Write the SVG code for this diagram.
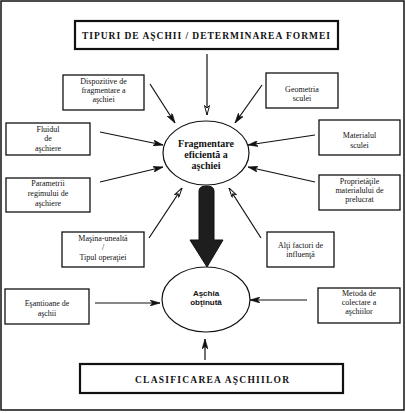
<svg xmlns="http://www.w3.org/2000/svg" width="406" height="413" viewBox="0 0 406 413">
<defs>
<marker id="ah" viewBox="0 0 10 6" refX="10" refY="3" markerWidth="10" markerHeight="6" markerUnits="userSpaceOnUse" orient="auto">
<path d="M0,0 L10,3 L0,6 L2.5,3 z" fill="#111" stroke="#111" stroke-width="0.6"/>
</marker>
<marker id="ao" viewBox="0 0 10 6" refX="10" refY="3" markerWidth="10" markerHeight="6" markerUnits="userSpaceOnUse" orient="auto">
<path d="M0.5,0.5 L10,3 L0.5,5.5 L3,3 z" fill="#fff" stroke="#111" stroke-width="1"/>
</marker>
</defs>
<style>
.box{fill:#fff;stroke:#111;stroke-width:1.3}
.big{fill:#fff;stroke:#111;stroke-width:2.2}
.ell{fill:#fff;stroke:#111;stroke-width:1.2}
.t{font-family:"Liberation Serif","Times New Roman",serif;font-size:8px;fill:#111;text-anchor:middle}
.tb{font-family:"Liberation Serif","Times New Roman",serif;font-size:10px;font-weight:bold;fill:#111;text-anchor:middle}
.ts{font-family:"Liberation Sans",Arial,sans-serif;font-size:8px;font-weight:bold;fill:#111;text-anchor:middle}
.cap{font-family:"Liberation Serif","Times New Roman",serif;font-size:9.5px;font-weight:bold;fill:#111;text-anchor:middle}
.ln{stroke:#111;stroke-width:1.2;fill:none;marker-end:url(#ah)}
.lo{stroke:#111;stroke-width:1.2;fill:none;marker-end:url(#ao)}
</style>
<rect x="0" y="0" width="406" height="413" fill="#fff"/>
<rect x="1" y="1" width="403" height="409" fill="none" stroke="#111" stroke-width="1.5"/>

<g id="connectors">
<line class="lo" x1="207" y1="54" x2="207" y2="115"/>
<line class="ln" x1="150" y1="84" x2="175" y2="123"/>
<line class="ln" x1="262" y1="85" x2="235" y2="123"/>
<line class="ln" x1="100" y1="132" x2="163" y2="145"/>
<line class="ln" x1="315" y1="135" x2="248" y2="145"/>
<line class="ln" x1="100" y1="182" x2="163" y2="167"/>
<line class="ln" x1="315" y1="182" x2="248" y2="167"/>
<line class="lo" x1="149" y1="238" x2="182" y2="188"/>
<line class="lo" x1="261" y1="238" x2="229" y2="188"/>
<line class="ln" x1="95" y1="303" x2="160" y2="303"/>
<line class="ln" x1="307" y1="300" x2="250" y2="300"/>
<line class="ln" x1="205" y1="360" x2="205" y2="339"/>
<path d="M199,240 L199,191 Q199,186 206.5,186 Q214,186 214,191 L214,240 L223,240 L207,267 L190,240 z" fill="#1e1e1e" stroke="#111" stroke-width="1"/>
</g>

<g id="top">
<rect class="big" x="75" y="21" width="263" height="28"/>
<text class="cap" x="206" y="38.5" textLength="248" lengthAdjust="spacing">TIPURI DE  AŞCHII / DETERMINAREA  FORMEI</text>
</g>

<g id="dispozitive">
<rect class="box" x="63" y="75" width="81" height="35"/>
<text class="t" x="103.5" y="84">Dispozitive de</text>
<text class="t" x="103.5" y="93">fragmentare  a</text>
<text class="t" x="103.5" y="102">aşchiei</text>
</g>

<g id="geometria">
<rect class="box" x="266" y="73" width="72" height="35"/>
<text class="t" x="302" y="92">Geometria</text>
<text class="t" x="302" y="101">sculei</text>
</g>

<g id="fluidul">
<rect class="box" x="6" y="123" width="84" height="32"/>
<text class="t" x="48" y="132">Fluidul</text>
<text class="t" x="48" y="141">de</text>
<text class="t" x="48" y="151">aşchiere</text>
</g>

<g id="materialul">
<rect class="box" x="319" y="120" width="81" height="35"/>
<text class="t" x="359.5" y="138">Materialul</text>
<text class="t" x="359.5" y="148">sculei</text>
</g>

<g id="parametrii">
<rect class="box" x="6" y="178" width="84" height="34"/>
<text class="t" x="48" y="186">Parametrii</text>
<text class="t" x="48" y="196">regimului de</text>
<text class="t" x="48" y="206">aşchiere</text>
</g>

<g id="proprietatile">
<rect class="box" x="319" y="175" width="81" height="35"/>
<text class="t" x="359.5" y="184">Proprietăţile</text>
<text class="t" x="359.5" y="193">materialului de</text>
<text class="t" x="359.5" y="202">prelucrat</text>
</g>

<g id="fragmentare">
<ellipse class="ell" cx="206" cy="153" rx="43" ry="32"/>
<text class="tb" x="206" y="147">Fragmentare</text>
<text class="tb" x="206" y="158">eficientă a</text>
<text class="tb" x="206" y="169">aşchiei</text>
</g>

<g id="masina">
<rect class="box" x="62" y="232" width="82" height="35"/>
<text class="t" x="103" y="241">Maşina-unealtă</text>
<text class="t" x="103" y="250">/</text>
<text class="t" x="103" y="260">Tipul operaţiei</text>
</g>

<g id="alti">
<rect class="box" x="267" y="232" width="67" height="35"/>
<text class="t" x="300.5" y="247.5">Alţi factori de</text>
<text class="t" x="300.5" y="256.5">influenţă</text>
</g>

<g id="aschia">
<ellipse class="ell" cx="206" cy="299.5" rx="44" ry="32.5"/>
<text class="ts" x="206" y="296">Aşchia</text>
<text class="ts" x="206" y="305">obţinută</text>
</g>

<g id="esantioane">
<rect class="box" x="5" y="289" width="84" height="35"/>
<text class="t" x="47" y="306">Eşantioane de</text>
<text class="t" x="47" y="316">aşchii</text>
</g>

<g id="metoda">
<rect class="box" x="318" y="288" width="82" height="35"/>
<text class="t" x="359" y="296">Metoda de</text>
<text class="t" x="359" y="305">colectare a</text>
<text class="t" x="359" y="314">aşchiilor</text>
</g>

<g id="clasificarea">
<rect class="big" x="80" y="364" width="263" height="29"/>
<text class="cap" x="212" y="383" textLength="154" lengthAdjust="spacing">CLASIFICAREA   AŞCHIILOR</text>
</g>
</svg>
